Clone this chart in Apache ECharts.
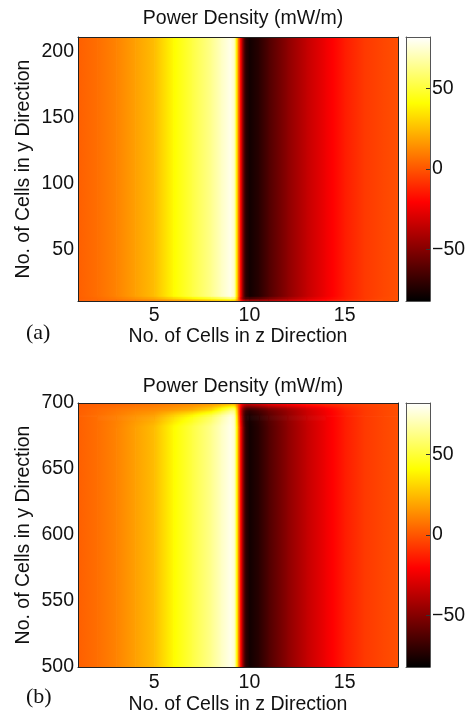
<!DOCTYPE html>
<html><head><meta charset="utf-8">
<script src="https://cdn.jsdelivr.net/npm/echarts@6/dist/echarts.min.js"></script>
<style>html,body{margin:0;padding:0;background:#fff}#c{width:473px;height:719px}</style>
</head><body><div id="c"></div>
<script>
// ---------- data ----------
const zCells = [1,2,3,4,5,6,7,8,8.5,9,9.2,9.3,9.4,9.5,9.6,9.7,9.8,10,10.5,11,12,13,14,15,16,17,18];
// panel (a): y position of each sampled row, and the row values (bottom edge first)
const aRowY = [11, 13, 15, 211];
const aRowEdge0 = [2,3,5,8,11,15,18,22,24,25,24,18,8,-5,-20,-30,-36,-40,-40,-38,-32,-24,-18,-12,-6,-3,-1];
const aRowEdge1 = [2,5,9,14,19,29,37,46,52,58,56,34,8,-18,-42,-55,-61,-63,-59,-52,-41,-30,-21,-13,-7,-3,-1];
const aRowInner = [2.5,6,11,18,25,40,52,64,72,79,72,42,12,-12,-38,-60,-72,-78,-72,-63,-48,-35,-24,-14,-7,-3.5,-1];
// panel (b): rows bottom to top (top edge last)
const bRowY = [500, 682, 690, 695, 700];
const bRowInner = [2.5,6,11,18,25,40,52,64,72,79,74,48,18,-10,-36,-58,-71,-78,-72,-63,-48,-35,-24,-14,-7,-3.5,-1];
const bRowEdge2 = [2.5,6,10,15,19,31,42,56,67,77,72,44,12,-16,-42,-62,-72,-76,-70,-61,-47,-34,-24,-14,-7,-3.5,-1];
const bRowEdge1 = [2,5,8,11,13,17,22,32,45,60,60,36,8,-18,-42,-58,-66,-70,-64,-56,-45,-33,-23,-13,-7,-3.5,-1];
const bRowEdge0 = [1,2,3,5,7,9,11,13,14,15,14,8,0,-10,-20,-25,-28,-28,-25,-20,-16,-12,-9,-7,-5,-3,-1];
// axes
const zRange = [1, 17.8];
const aYRange = [11, 211];
const bYRange = [500, 700];
const xTicks = [5, 10, 15];
const aYTicks = [50, 100, 150, 200];
const bYTicks = [500, 550, 600, 650, 700];
const cbRange = [-82, 82];
const cbTicks = [-50, 0, 50];
const titleText = 'Power Density (mW/m)';
const xName = 'No. of Cells in z Direction';
const yName = 'No. of Cells in y Direction';

// ---------- colormap (MATLAB "hot") ----------
function hot(v){
  let t = (v - cbRange[0]) / (cbRange[1] - cbRange[0]);
  t = Math.max(0, Math.min(1, t));
  const r = Math.min(1, t / 0.375);
  const g = Math.max(0, Math.min(1, (t - 0.375) / 0.375));
  const b = Math.max(0, Math.min(1, (t - 0.75) / 0.25));
  return 'rgb(' + Math.round(r*255) + ',' + Math.round(g*255) + ',' + Math.round(b*255) + ')';
}
const breaks = [0.375, 0.75].map(f => cbRange[0] + f * (cbRange[1] - cbRange[0]));
function stops(v0, v1){
  const s = [{offset: 0, color: hot(v0)}];
  breaks.forEach(bv => {
    if ((bv - v0) * (bv - v1) < 0) s.push({offset: (bv - v0) / (v1 - v0), color: hot(bv)});
  });
  s.push({offset: 1, color: hot(v1)});
  s.sort((a, b) => a.offset - b.offset);
  return s;
}

// one item per cell between two sampled rows and two sampled columns
function buildCells(ys, rows){
  const out = [];
  for (let k = 0; k < ys.length - 1; k++) {
    const lo = rows[k], hi = rows[k+1];
    for (let i = 0; i < zCells.length - 1; i++) {
      out.push([zCells[i], zCells[i+1], ys[k], ys[k+1], lo[i], lo[i+1], hi[i], hi[i+1]]);
    }
  }
  return out;
}
const aCells = buildCells(aRowY, [aRowEdge0, aRowEdge1, aRowInner, aRowInner]);
const bCells = buildCells(bRowY, [bRowInner, bRowInner, bRowEdge2, bRowEdge1, bRowEdge0]);

// shaded ("interp") rendering of a cell: thin horizontal slices, each a horizontal gradient
function cellItem(params, api){
  const x0 = api.value(0), x1 = api.value(1), y0 = api.value(2), y1 = api.value(3);
  const a0 = api.value(4), a1 = api.value(5), b0 = api.value(6), b1 = api.value(7);
  const pTop = api.coord([x0, y1]);
  const pBot = api.coord([x1, y0]);
  const w = pBot[0] - pTop[0] + 0.7;
  const hTot = pBot[1] - pTop[1];
  const same = (a0 === b0 && a1 === b1);
  const n = same ? 1 : Math.max(1, Math.ceil(hTot / 1));
  const children = [];
  for (let j = 0; j < n; j++) {
    const s = same ? 0 : (j + 0.5) / n; // 0 at top (y1)
    const l = b0 + (a0 - b0) * s, r = b1 + (a1 - b1) * s;
    children.push({
      type: 'rect',
      shape: {x: pTop[0], y: pTop[1] + hTot * j / n, width: w, height: hTot / n + 0.7},
      style: {fill: new echarts.graphic.LinearGradient(0, 0, 1, 0, stops(l, r))}
    });
  }
  return {type: 'group', children};
}
function cbItem(params, api){
  const p0 = api.coord([api.value(0), api.value(3)]);
  const p1 = api.coord([api.value(1), api.value(2)]);
  return {
    type: 'rect',
    shape: {x: p0[0], y: p0[1], width: p1[0] - p0[0], height: p1[1] - p0[1]},
    style: {fill: new echarts.graphic.LinearGradient(0, 1, 0, 0, stops(api.value(2), api.value(3)))}
  };
}

// ---------- layout ----------
const FONT = '"Liberation Sans", Arial, Helvetica, sans-serif';
const txt = {fontFamily: FONT, fontSize: 19.5, color: '#111'};
const frameLine = {show: true, onZero: false, lineStyle: {color: '#222', width: 1}};
const cbLine = {show: true, onZero: false, lineStyle: {color: '#555', width: 1}};
const minus = v => (v < 0 ? '\u2212' + Math.abs(v) : String(v));

const panels = [
  {top: 37, h: 264, yRange: aYRange, yTicks: aYTicks, cells: aCells, xMargin: 5, xGap: 26},
  {top: 403, h: 264, yRange: bYRange, yTicks: bYTicks, cells: bCells, xMargin: 6, xGap: 28}
];

const grid = [], xAxis = [], yAxis = [], series = [];
panels.forEach((p) => {
  const gMain = grid.length;
  grid.push({left: 78, top: p.top, width: 320, height: p.h, outerBoundsMode: 'none', containLabel: false});
  const gCb = grid.length;
  grid.push({left: 406, top: p.top, width: 24, height: p.h, outerBoundsMode: 'none', containLabel: false});

  const xMain = xAxis.length;
  xAxis.push({gridIndex: gMain, type: 'value', min: zRange[0], max: zRange[1], position: 'bottom', z: 10,
    axisLine: frameLine, axisTick: {show: false}, splitLine: {show: false},
    axisLabel: Object.assign({customValues: xTicks, margin: p.xMargin}, txt),
    name: xName, nameLocation: 'middle', nameGap: p.xGap, nameMoveOverlap: false, nameTextStyle: txt});
  xAxis.push({gridIndex: gMain, type: 'value', min: zRange[0], max: zRange[1], position: 'top', z: 10,
    axisLine: frameLine, axisTick: {show: false}, axisLabel: {show: false}, splitLine: {show: false}});
  const xCb = xAxis.length;
  xAxis.push({gridIndex: gCb, type: 'value', min: 0, max: 1, position: 'bottom', z: 10,
    axisLine: cbLine, axisTick: {show: false}, axisLabel: {show: false}, splitLine: {show: false}});
  xAxis.push({gridIndex: gCb, type: 'value', min: 0, max: 1, position: 'top', z: 10,
    axisLine: cbLine, axisTick: {show: false}, axisLabel: {show: false}, splitLine: {show: false}});

  const yMain = yAxis.length;
  yAxis.push({gridIndex: gMain, type: 'value', min: p.yRange[0], max: p.yRange[1], position: 'left', z: 10,
    axisLine: frameLine, axisTick: {show: false}, splitLine: {show: false},
    axisLabel: Object.assign({customValues: p.yTicks, margin: 4}, txt),
    name: yName, nameLocation: 'middle', nameGap: 44, nameMoveOverlap: false, nameTextStyle: txt});
  yAxis.push({gridIndex: gMain, type: 'value', min: p.yRange[0], max: p.yRange[1], position: 'right', z: 10,
    axisLine: frameLine, axisTick: {show: false}, axisLabel: {show: false}, splitLine: {show: false}});
  const yCb = yAxis.length;
  yAxis.push({gridIndex: gCb, type: 'value', min: cbRange[0], max: cbRange[1], position: 'left', z: 10,
    axisLine: cbLine, axisTick: {show: false}, axisLabel: {show: false}, splitLine: {show: false}});
  yAxis.push({gridIndex: gCb, type: 'value', min: cbRange[0], max: cbRange[1], position: 'right', z: 10,
    axisLine: cbLine, splitLine: {show: false},
    axisTick: {show: true, inside: true, length: 4, customValues: cbTicks, lineStyle: {color: '#333'}},
    axisLabel: Object.assign({customValues: cbTicks, margin: 2, formatter: minus}, txt)});

  series.push({type: 'custom', xAxisIndex: xMain, yAxisIndex: yMain, clip: true, silent: true,
    renderItem: cellItem, encode: {x: [0, 1], y: [2, 3]}, data: p.cells, z: 2});
  series.push({type: 'custom', xAxisIndex: xCb, yAxisIndex: yCb, clip: true, silent: true,
    renderItem: cbItem, encode: {x: [0, 1], y: [2, 3]}, data: [[0, 1, cbRange[0], cbRange[1]]], z: 2});
});

const chart = echarts.init(document.getElementById('c'), null, {renderer: 'canvas'});
chart.setOption({
  backgroundColor: '#fff',
  animation: false,
  title: [
    {text: titleText, left: 238, textAlign: 'center', top: 4, textStyle: Object.assign({fontWeight: 'normal'}, txt)},
    {text: titleText, left: 238, textAlign: 'center', top: 372, textStyle: Object.assign({fontWeight: 'normal'}, txt)}
  ],
  grid, xAxis, yAxis, series,
  graphic: [
    {type: 'text', left: 26, top: 322, style: {text: '(a)', font: '22px "Liberation Serif", "Times New Roman", serif', fill: '#111'}},
    {type: 'text', left: 26, top: 686, style: {text: '(b)', font: '22px "Liberation Serif", "Times New Roman", serif', fill: '#111'}}
  ]
});
</script>
</body></html>
